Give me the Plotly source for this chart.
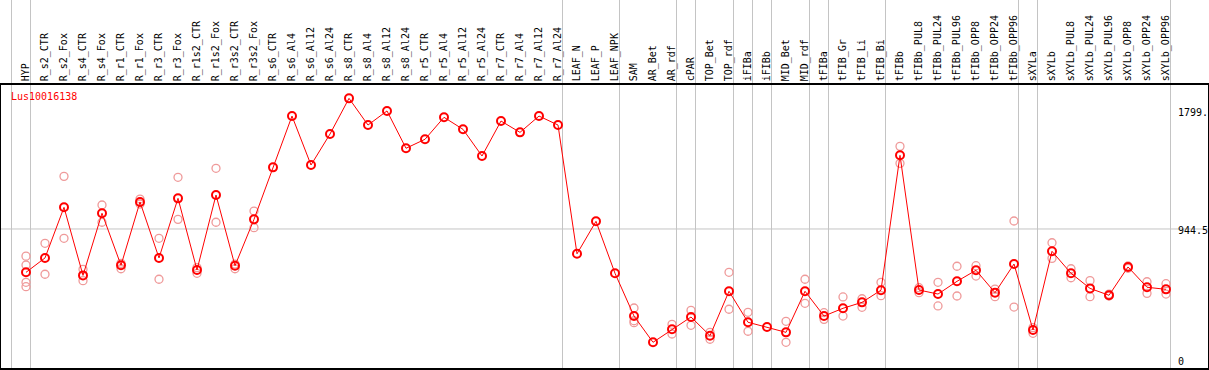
import plotly.graph_objects as go

categories = ["HYP", "R_s2_CTR", "R_s2_Fox", "R_s4_CTR", "R_s4_Fox", "R_r1_CTR", "R_r1_Fox",
              "R_r3_CTR", "R_r3_Fox", "R_r1s2_CTR", "R_r1s2_Fox", "R_r3s2_CTR", "R_r3s2_Fox",
              "R_s6_CTR", "R_s6_Al4", "R_s6_Al12", "R_s6_Al24", "R_s8_CTR", "R_s8_Al4",
              "R_s8_Al12", "R_s8_Al24", "R_r5_CTR", "R_r5_Al4", "R_r5_Al12", "R_r5_Al24",
              "R_r7_CTR", "R_r7_Al4", "R_r7_Al12", "R_r7_Al24", "LEAF_N", "LEAF_P", "LEAF_NPK",
              "SAM", "AR_Bet", "AR_rdf", "cPAR", "TOP_Bet", "TOP_rdf", "iFIBa", "iFIBb",
              "MID_Bet", "MID_rdf", "tFIBa", "tFIB_Gr", "tFIB_Li", "tFIB_Bi", "tFIBb",
              "tFIBb_PUL8", "tFIBb_PUL24", "tFIBb_PUL96", "tFIBb_OPP8", "tFIBb_OPP24",
              "tFIBb_OPP96", "sXYLa", "sXYLb", "sXYLb_PUL8", "sXYLb_PUL24", "sXYLb_PUL96",
              "sXYLb_OPP8", "sXYLb_OPP24", "sXYLb_OPP96"]

means = [631, 735, 1101, 609, 1058, 682, 1140, 735, 1166, 648, 1190, 679, 1014,
         1390, 1761, 1407, 1631, 1889, 1696, 1798, 1528, 1593, 1752, 1665, 1472,
         1725, 1643, 1761, 1696, 765, 1000, 624,
         315, 125, 219, 308, 173, 494, 270, 236, 197, 494, 315, 371, 414, 502,
         1477, 503, 474, 566, 646, 484, 691,
         214, 783, 624, 515, 465, 670, 523, 508]

N = None
reps_1 = [748, 841, 1325, 653, 1118, 696, 1161, 877, 1318, 665, 1383, 691, 1074,
          N, N, N, N, N, N, N, N, N, N, N, N, N, N, N, N, N, N, N,
          373, N, 255, 356, 197, 631, 342, N, 277, 581, 339, 453, 440, 559,
          1542, 520, 559, 675, 679, 510, 1002,
          231, 845, 657, 571, 474, 677, 563, 549]
reps_2 = [527, 617, 877, 571, 993, 657, 1125, 581, 1014, 624, 993, 657, 954,
          N, N, N, N, N, N, N, N, N, N, N, N, N, N, N, N, N, N, N,
          267, N, 185, 248, 147, 364, 205, N, 125, 407, 291, 315, 378, 462,
          1419, 484, 388, 460, 604, 455, 380,
          190, 732, 592, 455, 460, 660, 479, 474]
reps_3 = [684] + [N] * 31 + [281] + [N] * 28
reps_4 = [559] + [N] * 60

group_ends = [-1, 0, 28, 31, 34, 35, 37, 38, 39, 41, 42, 45, 52, 53, 60]
y_ticks = [0, 944.5, 1799]
y_tick_text = ["0", "944.5", "1799."]
gene = "Lus10016138"

x = list(range(len(categories)))
fig = go.Figure()

for reps in (reps_1, reps_2, reps_3, reps_4):
    xs = [i for i, v in zip(x, reps) if v is not None]
    ys = [v for v in reps if v is not None]
    fig.add_trace(go.Scatter(x=xs, y=ys, mode="markers", hoverinfo="skip", cliponaxis=False,
                             marker=dict(symbol="circle-open", size=8, color="#ef9a9a",
                                         line=dict(width=1.3, color="#ef9a9a"))))

fig.add_trace(go.Scatter(x=x, y=means, mode="lines+markers", cliponaxis=False,
                         line=dict(color="#ff0000", width=1),
                         marker=dict(symbol="circle-open", size=8, color="#ff0000",
                                     line=dict(width=2, color="#ff0000"))))

# layout geometry (pixels)
W, H = 1209, 370
ml, mr, mt, mb = 1, 1, 85, 2
pw = W - ml - mr
ph = H - mt - mb
px0 = 26.0   # first category centre (px)
step = 19.0  # category spacing (px)
xmin = (ml - px0) / step
xmax = (ml + pw - px0) / step

# y mapping: value -> pixel 359.6 - 0.1383*v
ypix0, k = 359.6, 0.1383
ymin = (ypix0 - (mt + ph)) / k
ymax = (ypix0 - mt) / k

shapes = []
for e in group_ends:
    shapes.append(dict(type="line", xref="x", yref="paper", x0=e + 4.5 / step, x1=e + 4.5 / step,
                       y0=0, y1=1 + mt / ph + 0.01, line=dict(color="#c4c4c4", width=1), layer="below"))
shapes.append(dict(type="line", xref="paper", yref="y", x0=0, x1=1, y0=y_ticks[1], y1=y_ticks[1],
                   line=dict(color="#c4c4c4", width=1), layer="below"))

annotations = []
lab_x = (1177 - ml) / pw
for v, t in zip(y_ticks, y_tick_text):
    annotations.append(dict(x=lab_x, xref="paper", y=v, yref="y", text=t, showarrow=False,
                            xanchor="left", yanchor="middle", yshift=-2, borderpad=0,
                            font=dict(family="DejaVu Sans Mono", size=10, color="black")))
annotations.append(dict(x=(10 - ml) / pw, xref="paper", y=(mt + ph - 97) / ph, yref="paper",
                        text=gene, showarrow=False, xanchor="left", yanchor="middle", borderpad=0,
                        font=dict(family="DejaVu Sans Mono", size=10, color="#ff0000")))

fig.update_layout(
    width=W, height=H, margin=dict(l=ml, r=mr, t=mt, b=mb, pad=0, autoexpand=False),
    paper_bgcolor="white", plot_bgcolor="white", showlegend=False,
    shapes=shapes, annotations=annotations,
    xaxis=dict(range=[xmin, xmax], side="top", tickmode="array", tickvals=x,
               ticktext=categories, tickangle=-90, ticks="", showgrid=False, zeroline=False,
               showline=True, mirror=True, linecolor="black", linewidth=1.5, automargin=False,
               ticklabelstandoff=0,
               tickfont=dict(family="DejaVu Sans Mono", size=10, color="black"),
               fixedrange=True),
    yaxis=dict(range=[ymin, ymax], showticklabels=False, ticks="", showgrid=False,
               zeroline=False, showline=True, mirror=True, linecolor="black", linewidth=1.5,
               automargin=False, fixedrange=True),
)

fig.write_html("out.html", config={"displayModeBar": False},
               post_script="document.body.style.margin='0';document.body.style.padding='0';"
                           "document.body.style.overflow='hidden';")
